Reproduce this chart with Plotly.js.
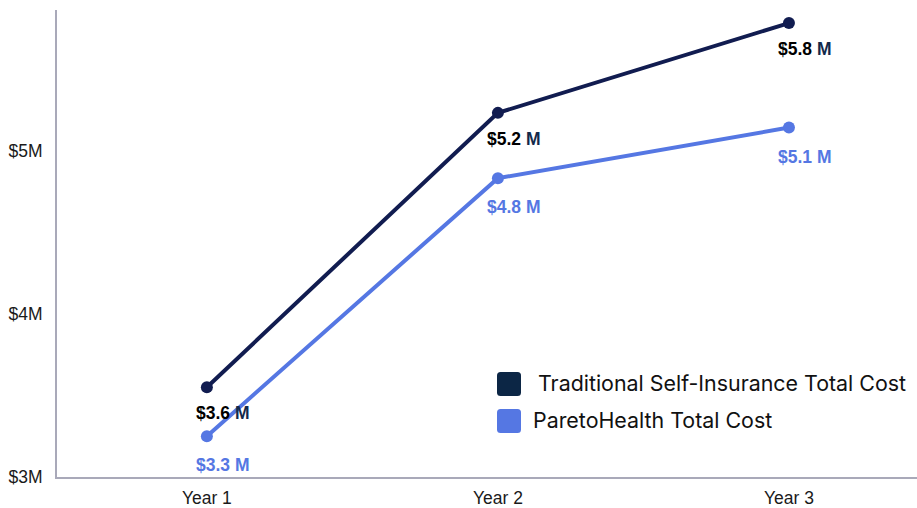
<!DOCTYPE html>
<html>
<head>
<meta charset="utf-8">
<script src="https://cdn.plot.ly/plotly-3.0.1.min.js"></script>
<style>html,body{margin:0;padding:0;background:#fff;}#chart{width:917px;height:508px;}</style>
</head>
<body>
<div id="chart"></div>
<script>
const years = ["Year 1", "Year 2", "Year 3"];
const traditionalCost = [3.55, 5.23, 5.78];
const paretoCost = [3.25, 4.83, 5.14];
const traditionalLabels = ["$3.6", "$5.2", "$5.8"];
const paretoLabels = ["$3.3", "$4.8", "$5.1"];
const seriesNames = ["Traditional Self-Insurance Total Cost", "ParetoHealth Total Cost"];
const yTickVals = [3, 4, 5];
const yTickText = ["$3M", "$4M", "$5M"];

const darkLine = "#111c50";
const darkLegend = "#0c2645";
const blue = "#5577e3";

const W = 917, H = 508, ML = 57, MR = 0, MT = 10, MB = 31;
const PW = W - ML - MR, PH = H - MT - MB;
const px = v => (v - ML) / PW;
const py = v => (H - MB - v) / PH;

const traces = [
  {x: years, y: traditionalCost, name: seriesNames[0], mode: "lines+markers",
   line: {color: darkLine, width: 4}, marker: {color: darkLine, size: 12}, showlegend: false, cliponaxis: false},
  {x: years, y: paretoCost, name: seriesNames[1], mode: "lines+markers",
   line: {color: blue, width: 4}, marker: {color: blue, size: 12}, showlegend: false, cliponaxis: false}
];

const labelFont = "Liberation Sans, Arial, sans-serif";
const annotations = [];
years.forEach((yr, i) => {
  annotations.push({x: yr, y: traditionalCost[i], xref: "x", yref: "y", showarrow: false,
    xanchor: "left", yanchor: "middle", xshift: -13, yshift: -26,
    text: "<b>" + traditionalLabels[i] + "<span style='color:#13294b'> M</span></b>",
    font: {family: labelFont, size: 17.5, color: "#000000"}});
  annotations.push({x: yr, y: paretoCost[i], xref: "x", yref: "y", showarrow: false,
    xanchor: "left", yanchor: "middle", xshift: -13, yshift: -29,
    text: "<b>" + paretoLabels[i] + " M</b>",
    font: {family: labelFont, size: 17.5, color: blue}});
});

// custom legend (rounded squares + text)
const legendColors = [darkLegend, blue];
const legendTop = [372, 409];
const legendTextX = [536, 531];
const shapes = [];
function roundRect(x0, y0, s, r) {
  const x1 = x0 + s, y1 = y0 + s;
  return "M" + px(x0 + r) + "," + py(y0) +
    " L" + px(x1 - r) + "," + py(y0) +
    " Q" + px(x1) + "," + py(y0) + " " + px(x1) + "," + py(y0 + r) +
    " L" + px(x1) + "," + py(y1 - r) +
    " Q" + px(x1) + "," + py(y1) + " " + px(x1 - r) + "," + py(y1) +
    " L" + px(x0 + r) + "," + py(y1) +
    " Q" + px(x0) + "," + py(y1) + " " + px(x0) + "," + py(y1 - r) +
    " L" + px(x0) + "," + py(y0 + r) +
    " Q" + px(x0) + "," + py(y0) + " " + px(x0 + r) + "," + py(y0) + " Z";
}
seriesNames.forEach((n, i) => {
  shapes.push({type: "path", xref: "paper", yref: "paper", path: roundRect(497, legendTop[i], 24, 3.5),
    fillcolor: legendColors[i], line: {width: 0}, layer: "above"});
  annotations.push({xref: "paper", yref: "paper", x: px(legendTextX[i]), y: py(legendTop[i] + 11), showarrow: false,
    xanchor: "left", yanchor: "middle", text: n,
    font: {family: "Inter, sans-serif", size: 21.4, color: "#111111"}});
});

const tickFont = {family: "Liberation Sans, Arial, sans-serif", size: 17.5, color: "#1a1a1a"};
const layout = {
  width: W, height: H,
  margin: {l: ML, r: MR, t: MT, b: MB},
  paper_bgcolor: "#ffffff", plot_bgcolor: "#ffffff",
  showlegend: false,
  xaxis: {type: "category", range: [-0.515, 2.44], showgrid: false, zeroline: false,
    showline: true, linecolor: "#a9a9b9", linewidth: 2, ticks: "", ticklabelstandoff: 4,
    tickfont: tickFont},
  yaxis: {range: [3, 5.86], tickvals: yTickVals, ticktext: yTickText, showgrid: false, zeroline: false,
    showline: true, linecolor: "#a9a9b9", linewidth: 2, ticks: "", ticklabelstandoff: 9,
    tickfont: tickFont},
  annotations: annotations,
  shapes: shapes
};
Plotly.newPlot("chart", traces, layout, {displayModeBar: false, staticPlot: true});
</script>
</body>
</html>
